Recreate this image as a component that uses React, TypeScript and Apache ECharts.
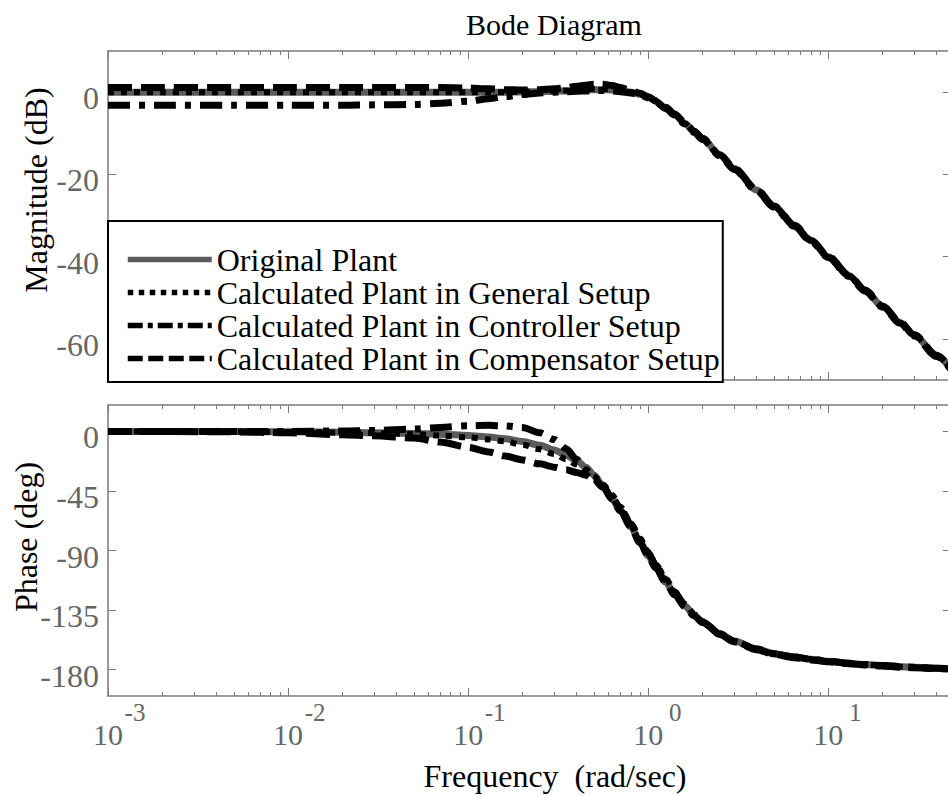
import React, { useEffect, useRef } from 'react';
import * as echarts from 'echarts';

// ---- data ----
const FREQ = [0.001, 0.002, 0.005, 0.01, 0.02, 0.03, 0.05, 0.07, 0.1, 0.13, 0.16, 0.2, 0.25, 0.3, 0.35, 0.4, 0.45, 0.5, 0.56, 0.63, 0.7, 0.8, 0.9, 1.0, 1.1, 1.25, 1.4, 1.6, 1.8, 2.0, 2.5, 3.0, 4.0, 5.0, 6.5, 8.0, 10, 13, 16, 20, 25, 30, 40, 48];

const MAG_ORIGINAL = [0, 0, 0, 0, 0, 0, 0, 0, 0, 0, 0, 0.05, 0.1, 0.2, 0.3, 0.4, 0.5, 0.6, 0.6, 0.5, 0.3, 0, -0.5, -1.2, -2.2, -3.8, -5.4, -7.6, -9.6, -11.3, -15.3, -18.6, -23.8, -27.8, -32.5, -36.1, -40, -44.6, -48.2, -52.1, -56, -59.1, -64.1, -67.3];
const MAG_GENERAL = [0, 0, 0, 0, 0, 0, 0, 0, 0, 0, 0, 0.05, 0.1, 0.25, 0.4, 0.55, 0.7, 0.8, 0.85, 0.7, 0.4, 0, -0.6, -1.3, -2.3, -3.9, -5.5, -7.7, -9.7, -11.4, -15.4, -18.7, -23.9, -27.9, -32.6, -36.2, -40.1, -44.7, -48.3, -52.2, -56.1, -59.2, -64.2, -67.4];
const MAG_CONTROLLER = [-3.2, -3.2, -3.2, -3.2, -3.2, -3.1, -3.0, -2.7, -2.2, -1.6, -1.1, -0.6, -0.2, 0, 0.1, 0.2, 0.3, 0.4, 0.4, 0.3, 0.1, -0.2, -0.7, -1.4, -2.4, -4.0, -5.6, -7.8, -9.8, -11.5, -15.5, -18.8, -24, -28, -32.7, -36.3, -40.2, -44.8, -48.4, -52.3, -56.2, -59.3, -64.3, -67.5];
const MAG_COMPENSATOR = [1.1, 1.1, 1.1, 1.1, 1.1, 1.1, 1.1, 1.1, 1.0, 0.8, 0.6, 0.5, 0.6, 0.8, 1.1, 1.4, 1.7, 1.9, 1.9, 1.6, 1.1, 0.4, -0.3, -1.1, -2.1, -3.7, -5.3, -7.5, -9.5, -11.2, -15.2, -18.5, -23.7, -27.7, -32.4, -36, -39.9, -44.5, -48.1, -52, -55.9, -59, -64, -67.2];

const PHASE_ORIGINAL = [0, 0, -0.1, -0.3, -0.6, -0.9, -1.5, -2.1, -3, -4.2, -5.5, -7.5, -10.5, -14, -18, -22, -27, -33, -41, -51, -60, -72, -84, -94, -103, -114, -123, -132, -139, -144, -153, -158.5, -164.5, -168, -170.5, -172.2, -173.8, -175.2, -176.2, -177, -177.8, -178.3, -179, -179.4];
const PHASE_GENERAL = [0, 0, -0.1, -0.4, -0.8, -1.2, -2, -3, -4.5, -6, -7.5, -10, -13.5, -17, -21, -25, -29, -34, -40, -48, -57, -69, -81, -91, -100, -111, -121, -130.5, -138, -143.5, -152.5, -158.5, -164.5, -168, -170.5, -172.2, -173.8, -175.2, -176.2, -177, -177.8, -178.3, -179, -179.4];
const PHASE_CONTROLLER = [0, 0, 0, 0, 0.4, 0.8, 1.8, 3, 4.3, 4.6, 4.2, 3, -1, -6, -13, -21, -29, -36, -42, -50, -58, -70, -82, -92, -101, -112, -122, -131, -138.5, -144, -153, -158.5, -164.5, -168, -170.5, -172.2, -173.8, -175.2, -176.2, -177, -177.8, -178.3, -179, -179.4];
const PHASE_COMPENSATOR = [0, 0, -0.3, -1, -2.5, -3.3, -5, -8, -12, -15.5, -18.5, -21.5, -24.5, -27, -29, -31, -33, -36.5, -42, -51, -60, -72, -84, -94, -103, -114, -123.5, -132.5, -139.5, -144.5, -153.5, -159, -165, -168.5, -171, -172.7, -174.2, -175.6, -176.6, -177.4, -178.2, -178.7, -179.3, -179.7];

const SERIES_NAMES = [
  'Original Plant',
  'Calculated Plant in General Setup',
  'Calculated Plant in Controller Setup',
  'Calculated Plant in Compensator Setup',
];

const X_MIN = 0.001;
const X_MAX = 48;
const X_MAJOR = [0.001, 0.01, 0.1, 1, 10];
const MAG_TICKS = [-60, -40, -20, 0];
const PHASE_TICKS = [-180, -135, -90, -45, 0];

const FONT = "'Liberation Serif', 'Times New Roman', serif";
const AX = '#7a7a7a';
const TICK_TXT = '#666666';

const X_MINOR: number[] = [];
for (let d = -3; d <= 1; d++) {
  for (let m = 2; m <= 9; m++) {
    const v = Number((m * Math.pow(10, d)).toPrecision(3));
    if (v < X_MAX) X_MINOR.push(v);
  }
}

function xAxes(grid: number, showLabels: boolean) {
  const base = {
    type: 'log',
    logBase: 10,
    gridIndex: grid,
    min: X_MIN,
    max: X_MAX,
    splitLine: { show: false },
    minorTick: { show: false },
    minorSplitLine: { show: false },
  };
  const major = (position: string, labels: boolean) => ({
    ...base,
    position,
    axisLine: { show: true, onZero: false, lineStyle: { color: AX, width: 1.5 } },
    axisTick: { show: true, inside: true, length: 8, customValues: X_MAJOR, lineStyle: { color: AX, width: 1 } },
    axisLabel: labels
      ? {
          show: true,
          customValues: X_MAJOR,
          margin: 9,
          formatter: (v: number) => {
            const e = Math.round(Math.log10(v));
            return `{p1| }{p2| }{s|${e}}\n{p1| }{b|10}{p3| }`;
          },
          rich: {
            p1: { width: 23, fontSize: 6, lineHeight: 6 },
            p2: { width: 31, fontSize: 6, lineHeight: 6 },
            p3: { width: 23, fontSize: 6, lineHeight: 6 },
            s: { width: 23, fontSize: 25, lineHeight: 14, fontFamily: FONT, color: TICK_TXT, align: 'left' },
            b: { width: 31, fontSize: 30, lineHeight: 30, fontFamily: FONT, color: TICK_TXT, align: 'center' },
          },
        }
      : { show: false },
  });
  const minor = (position: string) => ({
    ...base,
    position,
    axisLine: { show: false, onZero: false },
    axisTick: { show: true, inside: true, length: 4, customValues: X_MINOR, lineStyle: { color: AX, width: 1 } },
    axisLabel: { show: false },
  });
  return [major('bottom', showLabels), major('top', false), minor('bottom'), minor('top')];
}

function yAxes(grid: number, min: number, max: number, ticks: number[]) {
  const base = {
    type: 'value',
    gridIndex: grid,
    min,
    max,
    splitLine: { show: false },
    axisLine: { show: true, onZero: false, lineStyle: { color: AX, width: 1.5 } },
    axisTick: { show: true, inside: true, length: 8, customValues: ticks, lineStyle: { color: AX, width: 1 } },
  };
  return [
    {
      ...base,
      position: 'left',
      axisLabel: {
        show: true,
        customValues: ticks,
        margin: 9,
        fontFamily: FONT,
        fontSize: 32,
        color: TICK_TXT,
        verticalAlign: 'top',
        lineHeight: 12,
      },
    },
    { ...base, position: 'right', axisLabel: { show: false } },
  ];
}

const LINE_STYLES = [
  { color: '#5b5b5b', width: 7, type: 'solid' },
  { color: '#000000', width: 6, type: [6, 7] },
  { color: '#000000', width: 7, type: [22, 9, 6, 9] },
  { color: '#000000', width: 7, type: [24, 9] },
];
const LEGEND_LINE_STYLES = [
  { color: '#5b5b5b', width: 5.5, type: 'solid' },
  { color: '#000000', width: 5.5, type: [5.5, 5.5] },
  { color: '#000000', width: 5.5, type: [15, 5, 5, 5] },
  { color: '#000000', width: 5.5, type: [15, 5.5] },
];

export default function App() {
  const ref = useRef<HTMLDivElement>(null);
  useEffect(() => {
    if (!ref.current) return;
    const chart = echarts.init(ref.current, null, { renderer: 'svg' });
    const magSets = [MAG_ORIGINAL, MAG_GENERAL, MAG_CONTROLLER, MAG_COMPENSATOR];
    const phaseSets = [PHASE_ORIGINAL, PHASE_GENERAL, PHASE_CONTROLLER, PHASE_COMPENSATOR];
    const series: any[] = [];
    const mk = (vals: number[], i: number, xi: number, yi: number) => ({
      type: 'line',
      name: SERIES_NAMES[i],
      xAxisIndex: xi,
      yAxisIndex: yi,
      data: FREQ.map((f, k) => [f, vals[k]]),
      symbol: 'none',
      showSymbol: false,
      smooth: 0.3,
      smoothMonotone: 'x',
      lineStyle: LINE_STYLES[i],
      itemStyle: { color: LINE_STYLES[i].color },
      z: 2 + i,
    });
    magSets.forEach((vals, i) => series.push(mk(vals, i, 0, 0)));
    phaseSets.forEach((vals, i) => series.push(mk(vals, i, 4, 2)));

    const option: any = {
      animation: false,
      backgroundColor: '#ffffff',
      title: {
        text: 'Bode Diagram',
        left: 549,
        top: 4,
        textAlign: 'center',
        textStyle: { fontFamily: FONT, fontSize: 30, fontWeight: 'normal', color: '#000' },
      },
      grid: [
        { left: 108, top: 51, right: -3, height: 329, outerBoundsMode: 'none', containLabel: false },
        { left: 108, top: 405, right: -3, height: 291, outerBoundsMode: 'none', containLabel: false },
      ],
      xAxis: [...xAxes(0, false), ...xAxes(1, true)],
      yAxis: [...yAxes(0, -70, 10, MAG_TICKS), ...yAxes(1, -200, 20, PHASE_TICKS)],
      legend: {
        show: true,
        orient: 'vertical',
        left: 108,
        top: 221,
        padding: [22, 3, 7, 17],
        itemWidth: 84,
        itemHeight: 14,
        itemGap: 0,
        backgroundColor: '#ffffff',
        borderColor: '#000000',
        borderWidth: 2,
        borderRadius: 0,
        selectedMode: false,
        z: 10,
        textStyle: { fontFamily: FONT, fontSize: 32, lineHeight: 33, color: '#000' },
        data: SERIES_NAMES.map((n, i) => ({
          name: n,
          lineStyle: LEGEND_LINE_STYLES[i],
          itemStyle: { opacity: 0, color: 'rgba(0,0,0,0)', borderWidth: 0 },
        })),
      },
      graphic: [
        {
          type: 'text',
          x: 36,
          y: 190,
          rotation: Math.PI / 2,
          style: { text: 'Magnitude (dB)', fontFamily: FONT, fontSize: 32, fill: '#000', align: 'center', verticalAlign: 'middle' },
        },
        {
          type: 'text',
          x: 26,
          y: 537,
          rotation: Math.PI / 2,
          style: { text: 'Phase (deg)', fontFamily: FONT, fontSize: 32, fill: '#000', align: 'center', verticalAlign: 'middle' },
        },
        {
          type: 'text',
          x: 555,
          y: 776,
          style: { text: 'Frequency  (rad/sec)', fontFamily: FONT, fontSize: 32, fill: '#000', align: 'center', verticalAlign: 'middle' },
        },
      ],
      series,
    };
    chart.setOption(option);
    return () => chart.dispose();
  }, []);
  return (
    <div
      ref={ref}
      style={{ position: 'absolute', left: 0, top: 0, width: 948, height: 796, background: '#fff' }}
    />
  );
}
